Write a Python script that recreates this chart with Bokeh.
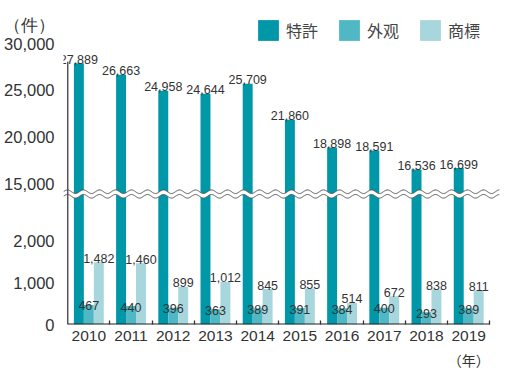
import numpy as np
from bokeh.plotting import figure
from bokeh.models import (ColumnDataSource, Range1d, FixedTicker, Legend, LegendItem,
                          LinearAxis)
from bokeh.core.properties import value
from bokeh.embed import file_html
from bokeh.resources import INLINE

# ---- data ----
years = ["2010", "2011", "2012", "2013", "2014", "2015", "2016", "2017", "2018", "2019"]
patent = [27889, 26663, 24958, 24644, 25709, 21860, 18898, 18591, 16536, 16699]
design = [467, 440, 396, 363, 389, 391, 384, 400, 293, 389]
trademark = [1482, 1460, 899, 1012, 845, 855, 514, 672, 838, 811]
series_names = ["特許", "外观", "商標"]
y_tick_values = [0, 1000, 2000, 15000, 20000, 25000, 30000]
y_tick_labels = ["0", "1,000", "2,000", "15,000", "20,000", "25,000", "30,000"]
y_unit = "（件）"
x_unit = "（年）"

# ---- broken-axis scale (transformed units = pixels above baseline) ----
LOW_K = 0.042
UP_BASE = 140.5
UP_K = 0.00936
UP_START = 15000
BREAK_Y = 130.5
UNIT_Y = 300  # position of the unit caption at the top of the value axis


def ty(v):
    return v * LOW_K if v < 5000 else UP_BASE + (v - UP_START) * UP_K


C_PAT = "#0098A8"
C_DES = "#50B7C4"
C_TM = "#A7D6DD"
TXT = "#333333"
NUM_FONT = value("Liberation Sans")

n = len(years)
idx = np.arange(n)
bw = 0.236
X0, X1 = -0.6, 9.73
px_per_unit = 436 / (X1 - X0)

src = ColumnDataSource(dict(
    xp=idx - bw, xd=idx * 1.0, xt=idx + bw,
    tp=[ty(v) for v in patent], td=[ty(v) for v in design], tt=[ty(v) for v in trademark],
    lp=[f"{v:,}" for v in patent], ld=[f"{v:,}" for v in design], lt=[f"{v:,}" for v in trademark],
))

p = figure(width=513, height=376, x_range=Range1d(X0, X1), y_range=Range1d(0, 324),
           min_border_left=63, min_border_right=14, min_border_top=0, min_border_bottom=52,
           output_backend="svg", toolbar_location=None, outline_line_color=None)
p.xgrid.visible = False
p.ygrid.visible = False

r_p = p.vbar(x="xp", top="tp", width=bw, source=src, fill_color=C_PAT, line_color=None)
r_d = p.vbar(x="xd", top="td", width=bw, source=src, fill_color=C_DES, line_color=None)
r_t = p.vbar(x="xt", top="tt", width=bw, source=src, fill_color=C_TM, line_color=None)

# axis break (wavy white band)
xs = np.linspace(X0, X1, 900)
wave = 1.8 * np.sin(2 * np.pi * (xs - X0) * px_per_unit / 16.0)
p.varea(x=xs, y1=BREAK_Y - 2.3 + wave, y2=BREAK_Y + 2.3 + wave, fill_color="white")
p.line(xs, BREAK_Y - 2.3 + wave, line_color="#555555", line_width=1)
p.line(xs, BREAK_Y + 2.3 + wave, line_color="#555555", line_width=1)

# axis lines
p.segment(x0=[-0.5], y0=[0], x1=[-0.5], y1=[ty(28050)], line_color="#555555", line_width=1.5)
p.segment(x0=[-0.5], y0=[0], x1=[n - 0.5], y1=[0], line_color="#222222", line_width=1.8)

# value labels
p.text(x="xp", y="tp", text="lp", source=src, text_align="center", text_baseline="alphabetic",
       y_offset=-4, text_font=NUM_FONT, text_font_size="12.5px", text_color=TXT)
p.text(x="xt", y="tt", text="lt", source=src, text_align="center", text_baseline="alphabetic",
       y_offset=-4, text_font=NUM_FONT, text_font_size="12.5px", text_color=TXT)
p.text(x="xd", y="td", text="ld", source=src, text_align="center", text_baseline="alphabetic",
       y_offset=1, text_font=NUM_FONT, text_font_size="12.5px", text_color=TXT)

# y axis (with the unit caption as its top label)
y_ticks = [ty(v) for v in y_tick_values] + [UNIT_Y]
overrides = {ty(v): s for v, s in zip(y_tick_values, y_tick_labels)}
overrides[UNIT_Y] = y_unit
p.yaxis.ticker = FixedTicker(ticks=y_ticks)
p.yaxis.major_label_overrides = overrides
p.yaxis.axis_line_color = None
p.yaxis.major_tick_line_color = None
p.yaxis.minor_tick_line_color = None
p.yaxis.major_label_standoff = 3
p.yaxis.major_label_text_font = "Liberation Sans"
p.yaxis.major_label_text_font_size = "16.5px"
p.yaxis.major_label_text_color = TXT

# x axis
p.xaxis.ticker = FixedTicker(ticks=list(idx), minor_ticks=list(idx + 0.5))
p.xaxis.major_label_overrides = {int(i): y for i, y in zip(idx, years)}
p.xaxis.axis_line_color = None
p.xaxis.major_tick_in = 0
p.xaxis.major_tick_out = 0
p.xaxis.minor_tick_in = 4
p.xaxis.minor_tick_out = 0
p.xaxis.minor_tick_line_color = "#333333"
p.xaxis.minor_tick_line_width = 1.3
p.xaxis.major_label_standoff = 6
p.xaxis.major_label_text_font = "Liberation Sans"
p.xaxis.major_label_text_font_size = "15.5px"
p.xaxis.major_label_text_color = TXT

# year unit: a second, label-only axis under the last category
unit_axis = LinearAxis(ticker=FixedTicker(ticks=[n - 1]),
                       major_label_overrides={n - 1: x_unit},
                       axis_line_color=None, major_tick_line_color=None,
                       minor_tick_line_color=None, major_label_standoff=0,
                       major_label_text_font="Noto Sans CJK JP",
                       major_label_text_font_size="14px", major_label_text_color=TXT)
p.add_layout(unit_axis, "below")

legend = Legend(items=[LegendItem(label=series_names[0], renderers=[r_p]),
                       LegendItem(label=series_names[1], renderers=[r_d]),
                       LegendItem(label=series_names[2], renderers=[r_t])],
                orientation="horizontal", location=(192, 280.6),
                glyph_width=26, glyph_height=26, label_height=26, label_standoff=5,
                spacing=18, padding=0, margin=0, border_line_color=None,
                background_fill_alpha=0, label_text_font="Noto Sans CJK JP",
                label_text_font_size="16px", label_text_color="#444444")
p.add_layout(legend)

open("out.html", "w").write(file_html(p, INLINE))
